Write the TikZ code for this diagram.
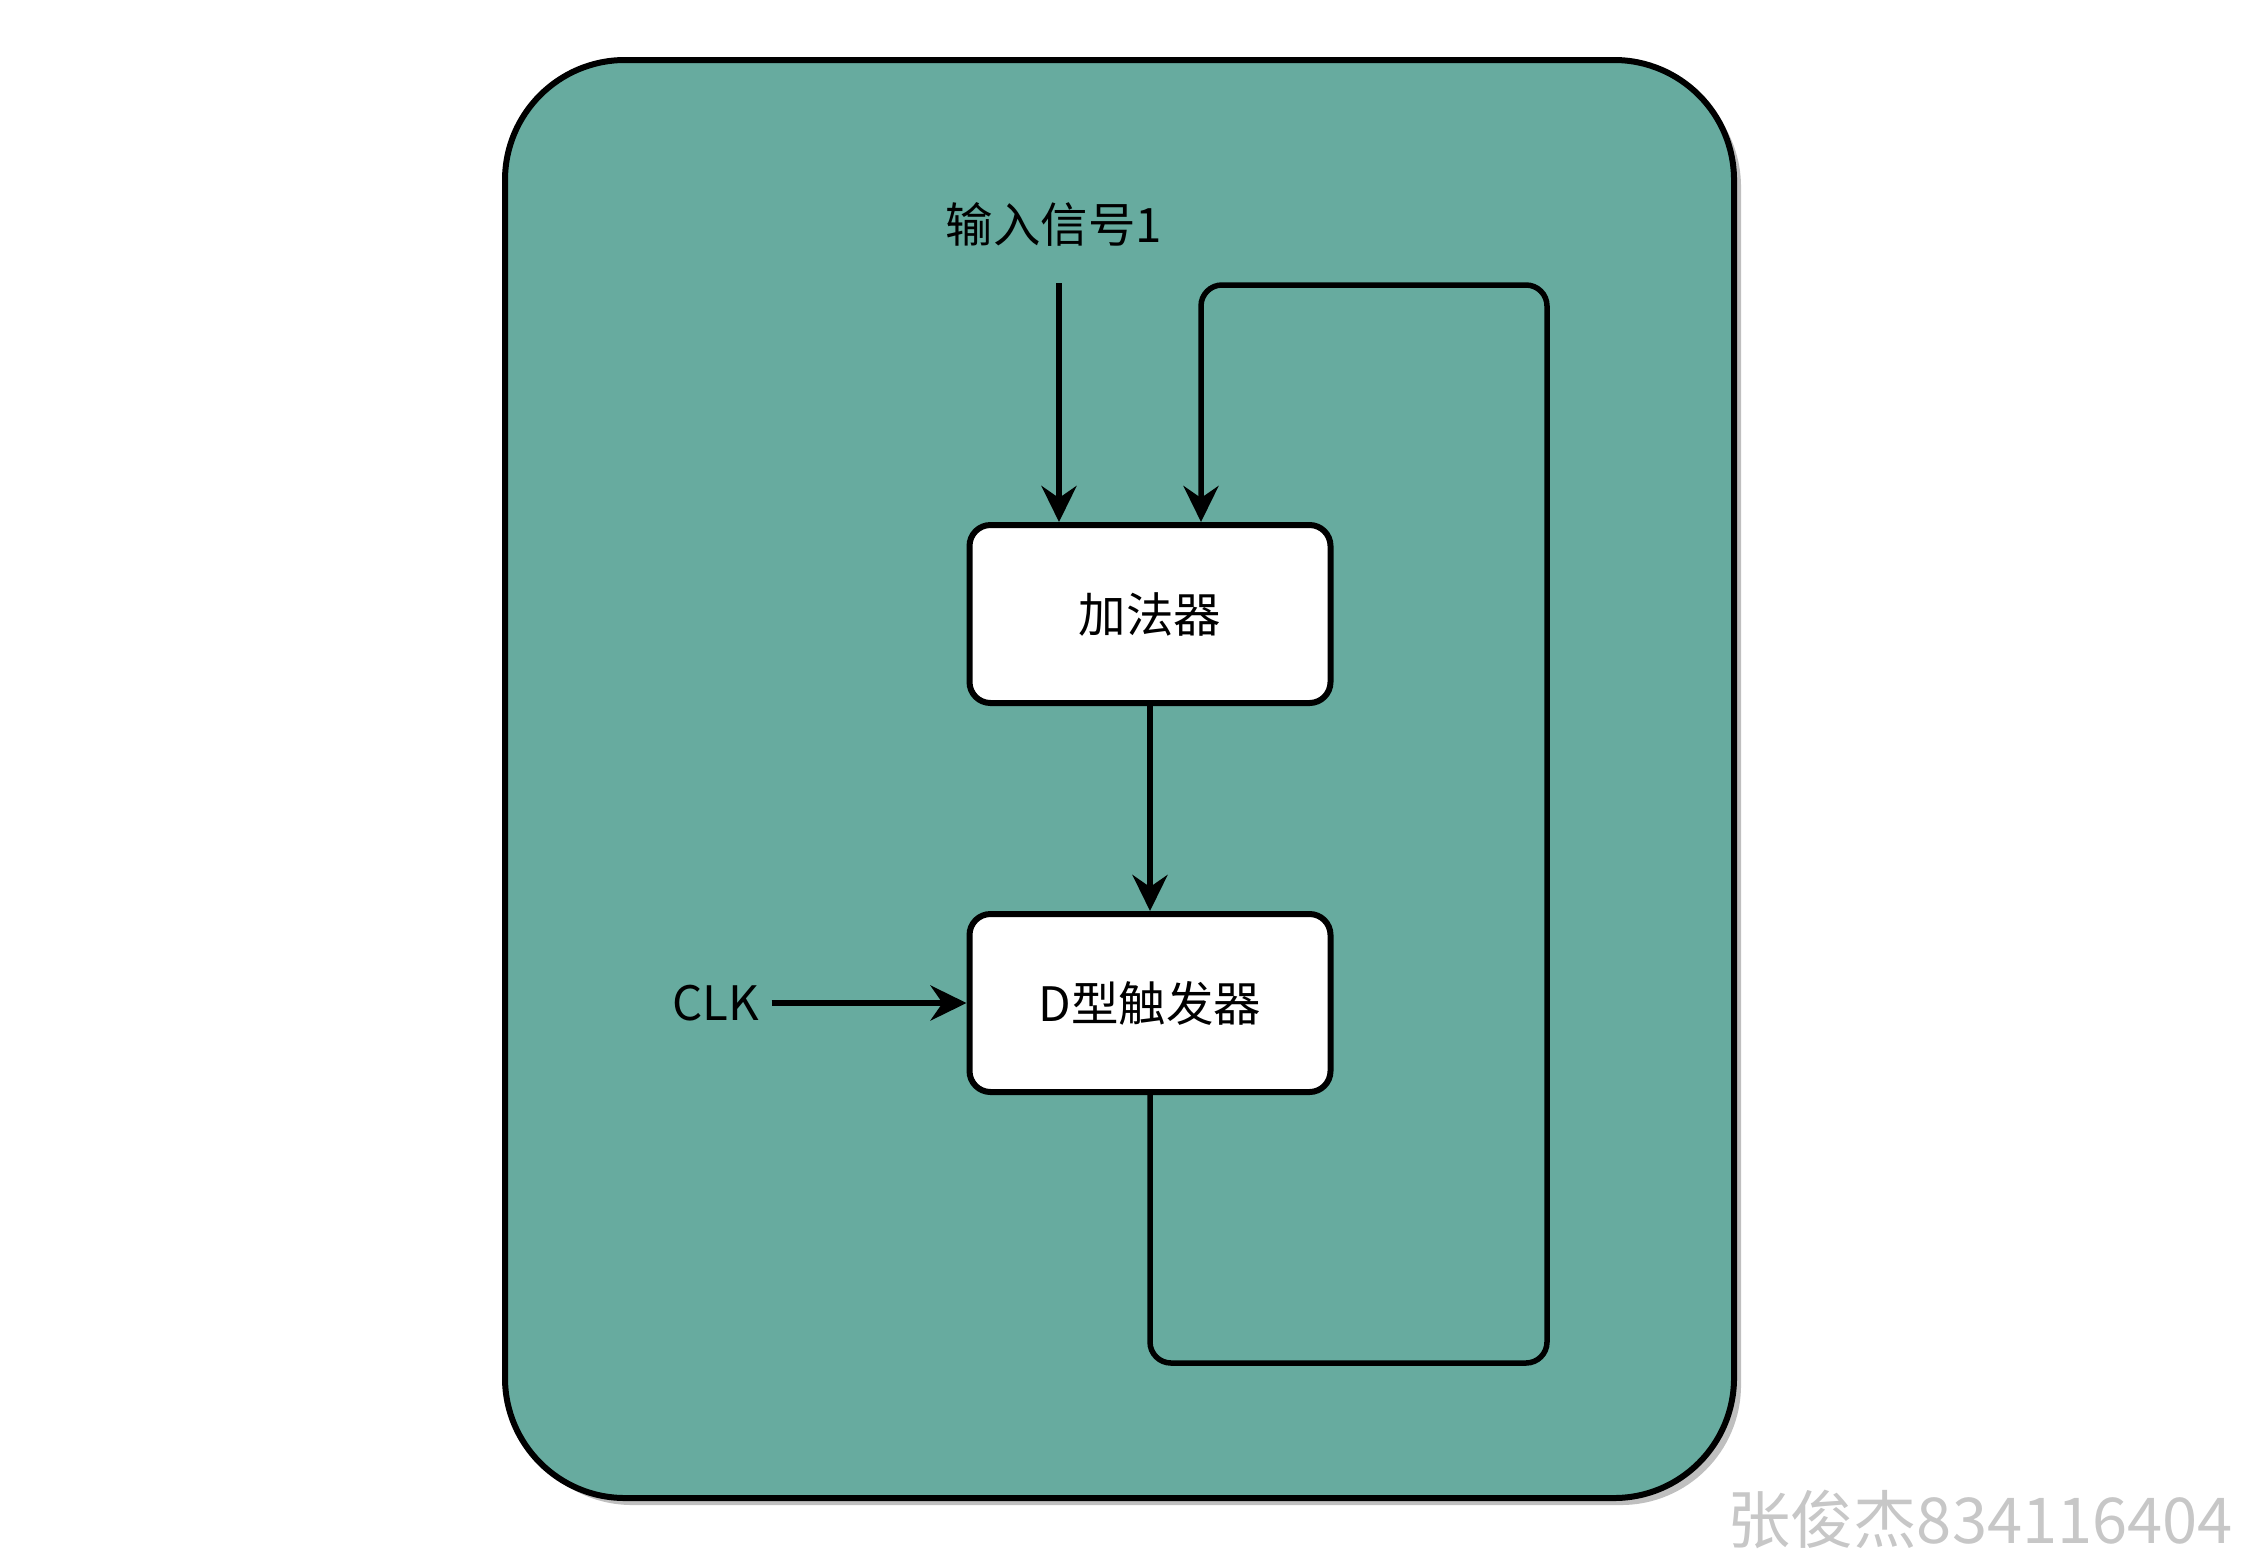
\documentclass[tikz,border=0pt]{standalone}
\usepackage{fontspec}
\setmainfont{Noto Sans CJK SC}
\usetikzlibrary{positioning,arrows.meta,shadows}
\definecolor{panelteal}{HTML}{67AB9F}

\begin{document}
\begin{tikzpicture}[x=0.1mm, y=-0.1mm, >={Stealth[length=3.6mm,width=3.5mm,inset=1.2mm]},
  font=\fontsize{13.5pt}{16pt}\selectfont,
  panel/.style={draw,line width=0.6mm,fill=panelteal,rounded corners=12mm,
    drop shadow={shadow xshift=0.7mm,shadow yshift=-0.7mm,fill=black!25,opacity=1}},
  unit/.style={draw,line width=0.6mm,fill=white,rounded corners=2.1mm,
    minimum width=36.1mm,minimum height=17.8mm},
  wire/.style={line width=0.55mm}]
  \useasboundingbox (0,0) rectangle (2242,1560);
  \draw[panel] (505,60) rectangle (1734,1498);
  \node[unit] (add) at (1150,614) {加法器};
  \node[unit,below=20.5mm of add] (dff) {D型触发器};
  \node (inp) at (1054,224) {输入信号1};
  \node[left=19.5mm of dff] (clk) {CLK};
  \coordinate (inp0) at (1059,283);
  \draw[wire,->] (inp0) -- (inp0 |- add.north);
  \draw[wire,->] (add) -- (dff);
  \draw[wire,->] (clk) -- (dff);
  % feedback from flip-flop back to adder
  \coordinate (fbr) at (1547,1363);
  \coordinate (fbt) at (1201,285);
  \draw[wire,->,rounded corners=2.1mm] (dff.south) |- (fbr) |- (fbt) -- (fbt |- add.north);
  \node[text=black!22,font=\fontsize{18pt}{21pt}\selectfont] (mark) at (1980,1519) {张俊杰834116404};
\end{tikzpicture}
\end{document}
